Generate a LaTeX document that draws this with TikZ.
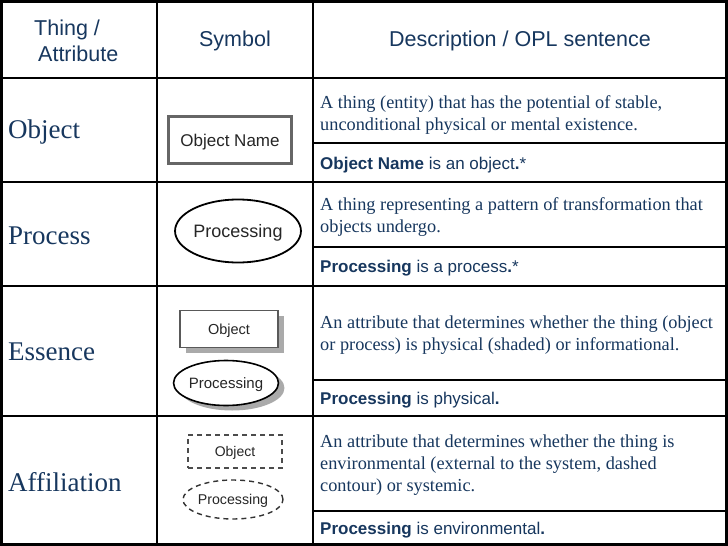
\documentclass[tikz,border=0pt]{standalone}
\usepackage{fontspec}
\setmainfont{Liberation Serif}
\setsansfont{Liberation Sans}
\usetikzlibrary{shapes.geometric,shadows}
\definecolor{textblue}{RGB}{23,55,94}
\definecolor{shadowgray}{RGB}{170,170,170}
\begin{document}
\begin{tikzpicture}[x=1pt,y=-1pt,
  gridthick/.style={line width=2.8pt,black},
  gridthin/.style={line width=1.2pt,black},
  hdr/.style={font=\sffamily\fontsize{21.5}{26}\selectfont,text=textblue,inner sep=0pt},
  lbl/.style={font=\fontsize{27}{32}\selectfont,text=textblue,anchor=west,inner sep=0pt},
  desc/.style={font=\fontsize{18.3}{22.2}\selectfont,text=textblue,anchor=north west,inner sep=0pt,align=left},
  opl/.style={font=\sffamily\fontsize{17}{20}\selectfont,text=textblue,anchor=base west,inner sep=0pt},
  symrect/.style={rectangle,inner sep=0pt,text depth=0pt,text=black!85},
  symell/.style={ellipse,inner sep=0pt,text depth=0pt,text=black!85},
  shad/.style={drop shadow={shadow xshift=6pt,shadow yshift=-5pt,fill=shadowgray,opacity=1}}
]
\useasboundingbox (0,0) rectangle (728,546);
\fill[white] (0,0) rectangle (728,546);

% grid
\draw[gridthick] (1.4,1.4) rectangle (726.6,544.6);
\draw[gridthick] (157,0) -- (157,546);
\draw[gridthick] (313,0) -- (313,546);
\draw[gridthick] (0,78) -- (728,78);
\draw[gridthick] (0,182) -- (728,182);
\draw[gridthick] (0,286) -- (728,286);
\draw[gridthick] (0,416) -- (728,416);
\draw[gridthin] (313,143) -- (728,143);
\draw[gridthin] (313,247) -- (728,247);
\draw[gridthin] (313,380) -- (728,380);
\draw[gridthin] (313,511) -- (728,511);

% header
\node[hdr,anchor=base west] (h1a) at (34,35) {Thing /};
\node[hdr,anchor=base west] (h1b) at (38,61) {Attribute};
\node[hdr] (h2) at (235,41) {Symbol};
\node[hdr] (h3) at (520,41) {Description / OPL sentence};

% labels
\node[lbl] (l1) at (8,132) {Object};
\node[lbl] (l2) at (8,236) {Process};
\node[lbl] (l3) at (8,352) {Essence};
\node[lbl] (l4) at (8,482) {Affiliation};

% symbols
\node[symrect,draw=black!60,line width=2.2pt,minimum width=123pt,minimum height=47pt,
  font=\sffamily\fontsize{17}{20}\selectfont] (s1) at (230,140) {Object Name};
\node[symell,draw=black,line width=1.8pt,minimum width=123pt,minimum height=63pt,
  font=\sffamily\fontsize{18}{20}\selectfont] (s2) at (238,231) {Processing};
\node[symrect,shad,draw=black!65,fill=white,line width=1.6pt,minimum width=98pt,minimum height=37pt,
  font=\sffamily\fontsize{14.5}{18}\selectfont] (s3a) at (229,329) {Object};
\node[symell,shad,draw=black,fill=white,line width=1.6pt,minimum width=104pt,minimum height=45pt,
  font=\sffamily\fontsize{15}{18}\selectfont] (s3b) at (226,383) {Processing};
\node[symrect,draw=black!70,dashed,dash pattern=on 5pt off 4pt,line width=1.4pt,minimum width=94pt,minimum height=33pt,
  font=\sffamily\fontsize{14}{18}\selectfont] (s4a) at (235,451.5) {Object};
\node[symell,draw=black!80,dash pattern=on 5pt off 4pt,line width=1.4pt,minimum width=100pt,minimum height=39pt,
  font=\sffamily\fontsize{14.2}{18}\selectfont] (s4b) at (233,499.5) {Processing};

% descriptions
\node[desc] (d1) at (320,92.5) {\strut A thing (entity) that has the potential of stable,\\\strut unconditional physical or mental existence.};
\node[desc] (d2) at (320,194.5) {\strut A thing representing a pattern of transformation that\\\strut objects undergo.};
\node[desc] (d3) at (320,312.5) {\strut An attribute that determines whether the thing (object\\\strut or process) is physical (shaded) or informational.};
\node[desc] (d4) at (320,431.5) {\strut An attribute that determines whether the thing is\\\strut environmental (external to the system, dashed\\\strut contour) or systemic.};

% OPL sentences
\node[opl] (o1) at (320,169) {\textbf{Object Name} is an object\textbf{.}*};
\node[opl] (o2) at (320,272) {\textbf{Processing} is a process\textbf{.}*};
\node[opl] (o3) at (320,404) {\textbf{Processing} is physical\textbf{.}};
\node[opl] (o4) at (320,534) {\textbf{Processing} is environmental\textbf{.}};
\end{tikzpicture}
\end{document}
